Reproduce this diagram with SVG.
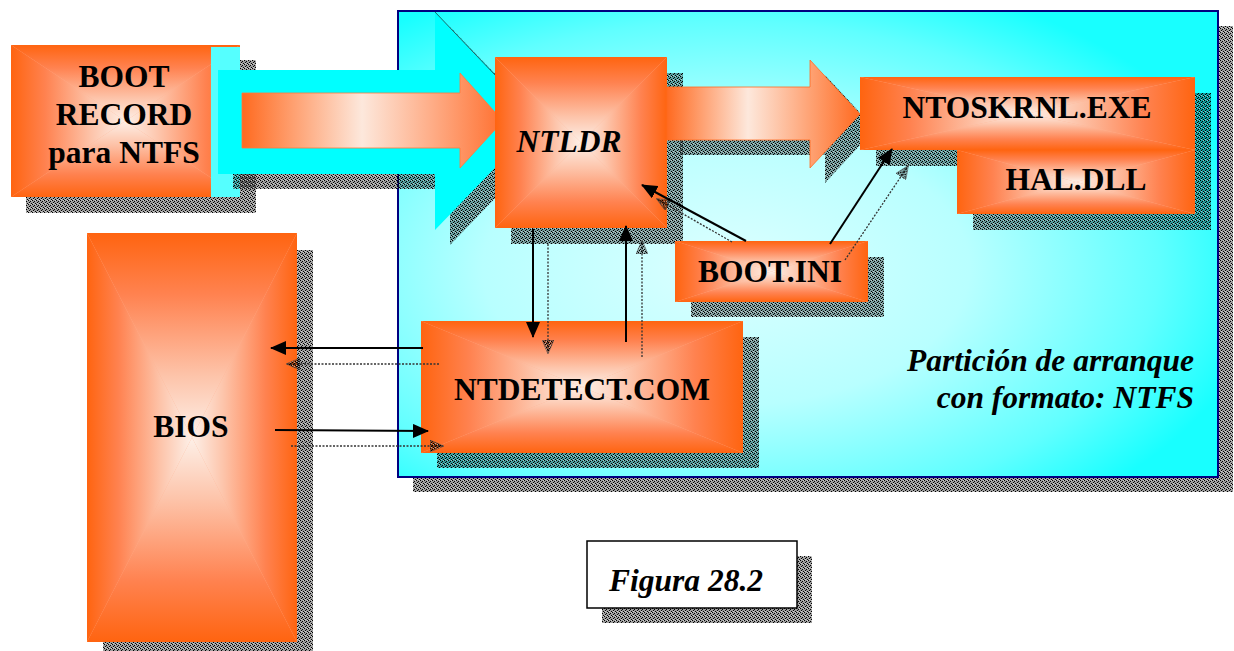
<svg xmlns="http://www.w3.org/2000/svg" xmlns:xlink="http://www.w3.org/1999/xlink" width="1234" height="651" viewBox="0 0 1234 651" font-family="Liberation Serif, Times New Roman, serif">
<defs>
<style>
.t{font-weight:bold;font-size:31.5px;fill:#000;text-anchor:middle}
.it{font-style:italic}
.sh{fill:url(#dith)}
.c{fill:none;stroke:#000;stroke-width:2;marker-end:url(#ah)}
.cs{fill:none;stroke:#333;stroke-width:1.3;stroke-dasharray:2 1.5;marker-end:url(#ahs)}
</style>
<pattern id="dith" width="4" height="4" patternUnits="userSpaceOnUse">
<rect width="4" height="4" fill="#000" fill-opacity="0.38"/>
<rect x="0" y="0" width="1" height="1" fill="#000"/>
<rect x="2" y="1" width="1" height="1" fill="#000"/>
<rect x="1" y="2" width="1" height="1" fill="#000"/>
<rect x="3" y="3" width="1" height="1" fill="#000"/>
<rect x="3" y="0" width="1" height="1" fill="#fff" fill-opacity="0.5"/>
<rect x="1" y="3" width="1" height="1" fill="#fff" fill-opacity="0.5"/>
</pattern>
<linearGradient id="gT" x1="0" y1="0" x2="0" y2="1"><stop offset="0" stop-color="#ff6410"/><stop offset="0.3" stop-color="#ff8250"/><stop offset="0.7" stop-color="#fdc4aa"/><stop offset="1" stop-color="#fdf0e8"/></linearGradient>
<linearGradient id="gB" x1="0" y1="1" x2="0" y2="0" xlink:href="#gT"/>
<linearGradient id="gL" x1="0" y1="0" x2="1" y2="0" xlink:href="#gT"/>
<linearGradient id="gR" x1="1" y1="0" x2="0" y2="0" xlink:href="#gT"/>
<linearGradient id="arr1" x1="0" y1="0" x2="1" y2="0"><stop offset="0" stop-color="#ff6a20"/><stop offset="0.46" stop-color="#fde8dc"/><stop offset="1" stop-color="#ff7030"/></linearGradient>
<linearGradient id="arr2" x1="0" y1="0" x2="1" y2="0"><stop offset="0" stop-color="#ff6a20"/><stop offset="0.42" stop-color="#fde8dc"/><stop offset="1" stop-color="#ff6a20"/></linearGradient>
<radialGradient id="part" cx="0.4" cy="0.55" r="0.66"><stop offset="0" stop-color="#dcffff"/><stop offset="0.45" stop-color="#b8ffff"/><stop offset="0.8" stop-color="#60ffff"/><stop offset="1" stop-color="#18ffff"/></radialGradient>
<symbol id="obox" viewBox="0 0 100 100" preserveAspectRatio="none">
<rect width="100" height="100" fill="#ffb08e"/>
<polygon points="0,0 100,0 50,50" fill="url(#gT)"/>
<polygon points="0,100 100,100 50,50" fill="url(#gB)"/>
<polygon points="0,0 0,100 50,50" fill="url(#gL)"/>
<polygon points="100,0 100,100 50,50" fill="url(#gR)"/>
</symbol>
<marker id="ah" markerUnits="userSpaceOnUse" markerWidth="16" markerHeight="14" viewBox="0 0 16 14" refX="15" refY="7" orient="auto"><path d="M0,0 L16,7 L0,14 z" fill="#000"/></marker>
<marker id="ahs" markerUnits="userSpaceOnUse" markerWidth="14" markerHeight="12" viewBox="0 0 14 12" refX="13" refY="6" orient="auto"><path d="M0,0 L14,6 L0,12 z" fill="url(#dith)" stroke="#555" stroke-width="0.5"/></marker>
</defs>

<g id="particion">
<rect class="sh" x="413" y="26" width="820" height="466"/>
<rect x="398" y="11" width="820" height="466" fill="url(#part)" stroke="#000080" stroke-width="2"/>
<text class="t it" x="1194" y="371" style="text-anchor:end">Partición de arranque</text>
<text class="t it" x="1194" y="408" style="text-anchor:end">con formato: NTFS</text>
</g>

<g id="boot-record">
<rect class="sh" x="26" y="60" width="230" height="153"/>
<use xlink:href="#obox" x="11" y="45" width="229" height="152"/>
<rect x="211" y="47" width="29" height="150" fill="#55ffff"/>
<text class="t" x="124" y="87">BOOT</text>
<text class="t" x="124" y="125">RECORD</text>
<text class="t" x="124" y="163">para NTFS</text>
</g>

<g id="flecha-boot-ntldr">
<polygon class="sh" points="233,85 450,85 450,27 555,136 450,245 450,189 233,189"/>
<polygon points="218,70 435,70 435,12 540,121 435,230 435,174 218,174" fill="#00ffff"/>
<line x1="435" y1="12" x2="495" y2="75" stroke="#1a6a6a" stroke-width="1"/>
<polygon points="242,93 460,93 460,73 503,121 460,168 460,148 242,148" fill="url(#arr1)" stroke="#ff7a3a" stroke-width="0.8"/>
</g>

<g id="ntldr">
<rect class="sh" x="511" y="73" width="172" height="171"/>
<use xlink:href="#obox" x="495" y="57" width="172" height="171"/>
<text class="t it" x="569" y="152">NTLDR</text>
</g>

<g id="flecha-ntldr-ntoskrnl">
<polygon class="sh" points="680,102 825,102 825,75 875,129 825,183 825,155 680,155"/>
<polygon points="667,87 810,87 810,60 860,114 810,168 810,140 667,140" fill="url(#arr2)" stroke="#ff6a20" stroke-width="0.8"/>
</g>

<g id="ntoskrnl">
<rect class="sh" x="876" y="93" width="335" height="73"/>
<rect class="sh" x="973" y="166" width="238" height="64"/>
<use xlink:href="#obox" x="957" y="150" width="238" height="64"/>
<use xlink:href="#obox" x="860" y="77" width="335" height="73"/>
<text class="t" x="1027" y="118">NTOSKRNL.EXE</text>
</g>

<g id="hal">
<text class="t" x="1076" y="190">HAL.DLL</text>
</g>

<g id="boot-ini">
<rect class="sh" x="691" y="257" width="193" height="60"/>
<use xlink:href="#obox" x="675" y="241" width="193" height="61"/>
<text class="t" x="770" y="282">BOOT.INI</text>
</g>

<g id="ntdetect">
<rect class="sh" x="437" y="337" width="322" height="131"/>
<use xlink:href="#obox" x="421" y="321" width="322" height="132"/>
<text class="t" x="582" y="400">NTDETECT.COM</text>
</g>

<g id="bios">
<rect class="sh" x="103" y="250" width="210" height="401"/>
<use xlink:href="#obox" x="87" y="233" width="210" height="409"/>
<text class="t" x="191" y="437">BIOS</text>
</g>

<g id="figura">
<rect class="sh" x="602" y="556" width="210" height="67"/>
<rect x="587" y="541" width="210" height="67" fill="#fff" stroke="#000" stroke-width="1.5"/>
<text class="t it" x="686" y="591">Figura 28.2</text>
</g>

<g id="conectores">
<path class="cs" d="M548,244 L548,353"/>
<path class="cs" d="M642,357 L642,241"/>
<path class="cs" d="M439,364 L287,364"/>
<path class="cs" d="M291,446 L443,446"/>
<path class="cs" d="M732,242 L657,199"/>
<path class="cs" d="M845,260 L908,166"/>
<path class="c" d="M533,229 L533,337"/>
<path class="c" d="M626,342 L626,226"/>
<path class="c" d="M423,348 L271,348"/>
<path class="c" d="M275,430 L428,431"/>
<path class="c" d="M746,241 L642,185"/>
<path class="c" d="M830,244 L892,149"/>
</g>
</svg>
